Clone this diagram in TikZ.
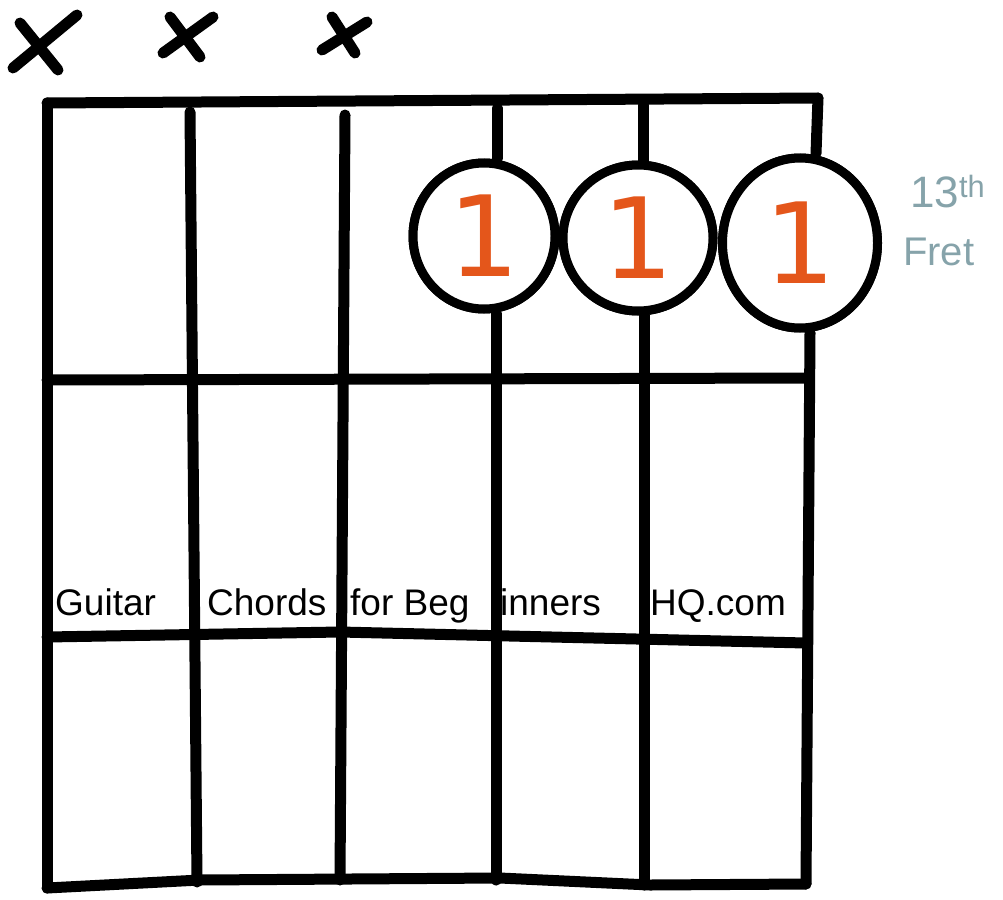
\documentclass[tikz,border=0pt]{standalone}
\usepackage{fontspec}
\setmainfont{Liberation Sans}
\newfontfamily\digitfont{DejaVu Sans}
\usetikzlibrary{shapes.geometric}
\definecolor{fingerorange}{HTML}{E4561B}
\definecolor{fretgray}{HTML}{86A3AA}
\tikzset{
  ink/.style={line width=11pt, line cap=round, line join=round, black},
  mute/.style={line width=11pt, line cap=round, black},
  finger/.style={ellipse, draw=black, line width=9pt, fill=white, inner sep=0pt, text=fingerorange, font=\digitfont\fontsize{112}{112}\selectfont},
  wm/.style={font=\fontsize{37}{37}\selectfont, text=black, inner sep=0pt, anchor=base west},
  fretlbl/.style={text=fretgray, inner sep=0pt}
}
\begin{document}
\begin{tikzpicture}[x=1pt,y=-1pt]
\useasboundingbox (0,0) rectangle (1003,899);
% mute marks
\draw[mute] (13,68) -- (77,15);
\draw[mute] (20,23) -- (58,70);
\draw[mute] (163,53) -- (213,17);
\draw[mute] (170,17) -- (200,57);
\draw[mute] (322,50) -- (367,22);
\draw[mute] (332,17) -- (355,53);
% coordinates
\coordinate (tl) at (47,103);
\coordinate (tr) at (818,98);
\coordinate (bl) at (47,888);
\coordinate (br) at (806,884);
\coordinate (s2t) at (190,112);
\coordinate (s2b) at (197,882);
\coordinate (s3t) at (345,115);
\coordinate (s3b) at (340,880);
\coordinate (s4t) at (497,108);
\coordinate (s4b) at (496,880);
\coordinate (s5t) at (643,105);
\coordinate (s5b) at (644,885);
\coordinate (f1l) at (47,380);
\coordinate (f1r) at (808,378);
\coordinate (f2l) at (47,637);
\coordinate (f2m) at (340,632);
\coordinate (f2r) at (806,643);
% strings and frets
\draw[ink] (tl) -- (tr);
\draw[ink] (tl) -- (bl);
\draw[ink] (s2t) -- (s2b);
\draw[ink] (s3t) -- (s3b);
\draw[ink] (f1l) -- (f1r);
\draw[ink] (f2l) -- (f2m) -- (f2r);
\draw[ink] (bl) -- (200,880) -- (500,878) -- (650,885) -- (br);
% finger circles (named), strings run behind them
\node[finger, minimum width=142pt, minimum height=146pt] (c1) at (484,236) {};
\node[finger, minimum width=150pt, minimum height=146pt] (c2) at (638,238) {};
\node[finger, minimum width=155pt, minimum height=170pt] (c3) at (800,243) {};
\draw[ink] (s4t) -- (s4t |- c1.north);
\draw[ink] (s4b |- c1.south) -- (s4b);
\draw[ink] (s5t) -- (s5t |- c2.north);
\draw[ink] (s5b |- c2.south) -- (s5b);
\draw[ink] (tr) -- ([xshift=16pt]c3.north);
\draw[ink] ([xshift=10pt]c3.south) -- (br);
% circles on top with digits
\node[finger, minimum width=142pt, minimum height=146pt] at (c1) {1};
\node[finger, minimum width=150pt, minimum height=146pt] at (c2) {1};
\node[finger, minimum width=155pt, minimum height=170pt] at (c3) {1};
% fret label
\node[fretlbl, anchor=base west, font=\fontsize{44}{44}\selectfont] (fr13) at (910,207) {13\textsuperscript{th}};
\node[fretlbl, anchor=base west, font=\fontsize{40}{40}\selectfont] (frt) at (903,265) {Fret};
% watermark
\node[wm] (w1) at (55,615) {Guitar};
\node[wm] (w2) at (207,615) {Chords};
\node[wm] (w3) at (350,615) {for Beg};
\node[wm] (w4) at (500,615) {inners};
\node[wm] (w5) at (650,615) {HQ.com};
\end{tikzpicture}
\end{document}
